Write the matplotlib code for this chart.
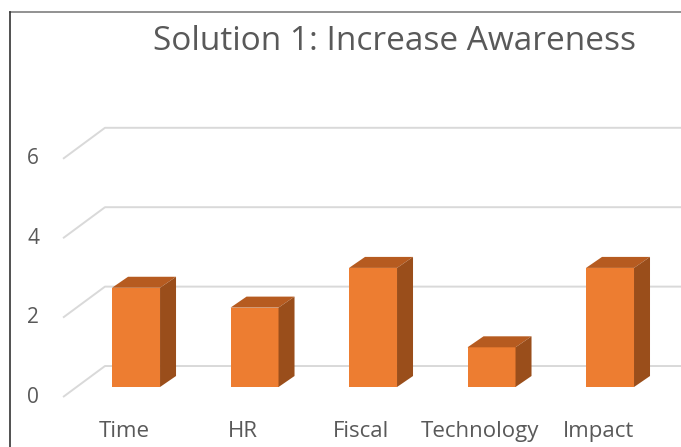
import matplotlib
matplotlib.use("Agg")
import matplotlib.pyplot as plt
from matplotlib.patches import Polygon, Rectangle
from matplotlib.lines import Line2D

categories = ["Time", "HR", "Fiscal", "Technology", "Impact"]
values = [2.5, 2, 3, 1, 3]
y_ticks = [0, 2, 4, 6]
title = "Solution 1: Increase Awareness"

FRONT = "#ED7D31"
TOP = "#B65B20"
SIDE = "#9A4E1B"
TEXT = "#595959"
GRID = "#D9D9D9"

plt.rcParams["font.family"] = ["Open Sans", "DejaVu Sans"]

fig = plt.figure(figsize=(6.81, 4.47), dpi=100)
ax = fig.add_axes([0, 0, 1, 1])
ax.set_xlim(-1.148, 4.599)
ax.set_ylim(-1.511, 9.748)
ax.axis("off")

# bar geometry (category units / value units)
bw = 0.405
dx, dy = 0.135, 0.277
# wall gridline geometry relative to the bar front plane
front_x, front_dy = -0.616, -0.252
back_x, back_dy = -0.262, 0.529

for v in y_ticks:
    ax.plot([front_x, back_x, 4.599], [v + front_dy, v + back_dy, v + back_dy],
            color=GRID, lw=1.4, zorder=1, solid_capstyle="butt")
    ax.text(-0.869, v + front_dy, str(v), ha="center", va="center",
            fontsize=15, color=TEXT)

for i, (cat, v) in enumerate(zip(categories, values)):
    l, r = i - bw / 2, i + bw / 2
    ax.add_patch(Rectangle((l, 0), bw, v, facecolor=FRONT, edgecolor="none", zorder=3))
    ax.add_patch(Polygon([(l, v), (r, v), (r + dx, v + dy), (l + dx, v + dy)],
                         facecolor=TOP, edgecolor="none", zorder=3))
    ax.add_patch(Polygon([(r, 0), (r + dx, dy), (r + dx, v + dy), (r, v)],
                         facecolor=SIDE, edgecolor="none", zorder=3))
    ax.text(i - 0.1, -1.108, cat, ha="center", va="center", fontsize=16, color=TEXT)

fig.text(153 / 681, 1 - 41 / 447, title, ha="left", va="center",
         fontsize=24, color=TEXT)

# chart frame edges visible in the crop
fig.add_artist(Line2D([9.5 / 681, 1], [1 - 11.5 / 447] * 2, color="#7F7F7F", lw=1.2))
fig.add_artist(Line2D([9.5 / 681] * 2, [0, 1 - 11.5 / 447], color="#333333", lw=1.2))

fig.savefig("out.png", dpi=100)
